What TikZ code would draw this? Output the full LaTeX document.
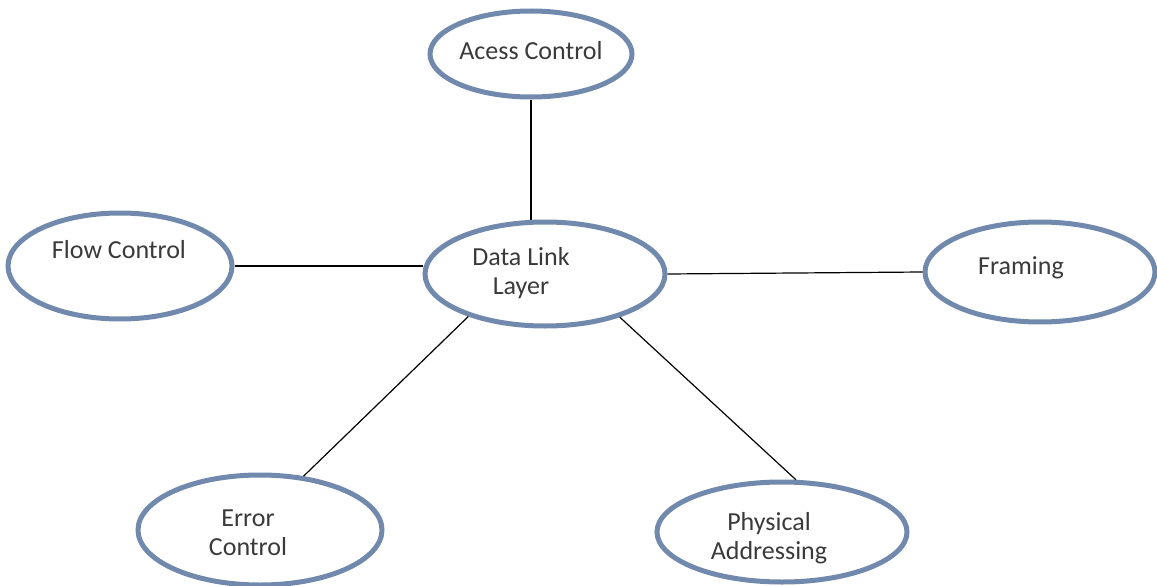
\documentclass[tikz,border=0pt]{standalone}
\usepackage{fontspec}
\setmainfont{Carlito}
\usetikzlibrary{shapes.geometric}
\definecolor{rim}{HTML}{7189AC}
\definecolor{ink}{HTML}{3A3A3A}
\tikzset{
  oval/.style={ellipse, draw=rim, line width=5pt, fill=white, inner sep=0pt},
  tag/.style={text=ink, font=\fontsize{26}{29}\selectfont, align=center, inner sep=0pt},
  link/.style={draw=black, line width=1.2pt}
}
\begin{document}
\begin{tikzpicture}[x=1pt, y=-1pt]
  \useasboundingbox (0,0) rectangle (1157,586);
  \fill[white] (0,0) rectangle (1157,586);

  % ovals
  \node[oval, minimum width=202pt, minimum height=86pt]  (ac)  at (531,54)  {};
  \node[oval, minimum width=240pt, minimum height=104pt] (dll) at (545,274) {};
  \node[oval, minimum width=224pt, minimum height=106pt] (fc)  at (120,266) {};
  \node[oval, minimum width=230pt, minimum height=100pt] (fr)  at (1040,272) {};
  \node[oval, minimum width=244pt, minimum height=110pt] (ec)  at (260,530) {};
  \node[oval, minimum width=250pt, minimum height=100pt] (pa)  at (782,532) {};

  % labels
  \node[tag] (ac-t)  at (531,51)  {Acess Control};
  \node[tag] (dll-t) at (521,273) {Data Link\\Layer};
  \node[tag] (fc-t)  at (119,250) {Flow Control};
  \node[tag] (fr-t)  at (1021,268) {Framing};
  \node[tag] (ec-t)  at (248,533) {Error\\Control};
  \node[tag] (pa-t)  at (769,538) {Physical\\Addressing};

  % connectors
  \draw[link] (ac.south) -- (ac.south |- dll.north);
  \draw[link] (fc.east) -- (fc.east -| dll.west);
  \draw[link] (dll.east) -- (fr.west);
  \draw[link] (dll.209) -- (ec.51);
  \draw[link] (dll.330) -- (pa.75);
\end{tikzpicture}
\end{document}
